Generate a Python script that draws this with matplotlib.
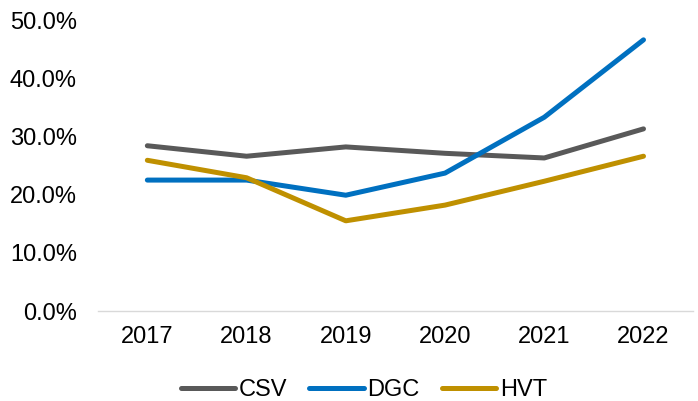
import matplotlib.pyplot as plt
from matplotlib.ticker import FuncFormatter

plt.rcParams['font.family'] = ['Liberation Sans', 'DejaVu Sans']

years = ["2017", "2018", "2019", "2020", "2021", "2022"]
csv_vals = [28.4, 26.6, 28.2, 27.1, 26.3, 31.3]
dgc_vals = [22.5, 22.5, 19.9, 23.7, 33.3, 46.6]
hvt_vals = [25.9, 22.9, 15.5, 18.2, 22.3, 26.6]

fig = plt.figure(figsize=(6.98, 4.01), dpi=100)
ax = fig.add_axes([0.140, 0.2244, 0.853, 0.7256])

x = range(len(years))
ax.plot(x, csv_vals, color="#595959", lw=3.6, label="CSV", solid_capstyle="round")
ax.plot(x, dgc_vals, color="#0070C0", lw=3.6, label="DGC", solid_capstyle="round")
ax.plot(x, hvt_vals, color="#BF9000", lw=3.6, label="HVT", solid_capstyle="round")

ax.set_xlim(-0.5, len(years) - 0.5)
ax.set_ylim(0, 50)
ax.set_yticks([0, 10, 20, 30, 40, 50])
ax.yaxis.set_major_formatter(FuncFormatter(lambda v, p: f"{v:.1f}%"))
ax.set_xticks(list(x))
ax.set_xticklabels(years)

for s in ["top", "right", "left"]:
    ax.spines[s].set_visible(False)
ax.spines["bottom"].set_color("#d9d9d9")
ax.spines["bottom"].set_linewidth(1)
ax.tick_params(axis="both", length=0, labelsize=17, colors="black")
ax.tick_params(axis="y", pad=15)
ax.tick_params(axis="x", pad=11)

fig.legend(loc="center", bbox_to_anchor=(0.521, 0.027), ncol=3, frameon=False,
           fontsize=17, handlelength=2.3, handletextpad=0.15, columnspacing=0.95)

fig.savefig("out.png", dpi=100)
